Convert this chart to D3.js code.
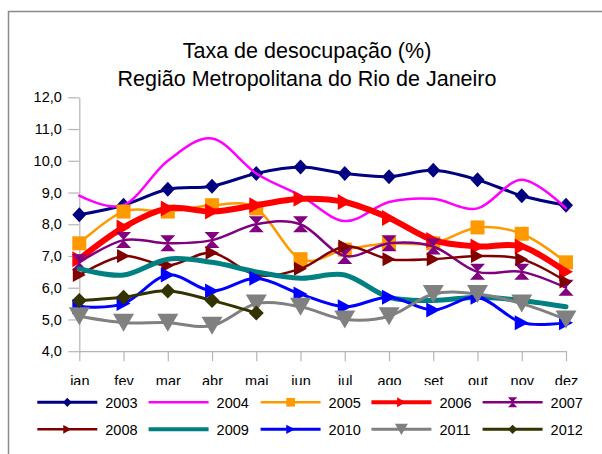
<!DOCTYPE html>
<html>
<head>
<meta charset="utf-8">
<script src="https://cdn.jsdelivr.net/npm/d3@7"></script>
<style>
  html, body { margin: 0; padding: 0; background: #fff; }
  svg { display: block; font-family: "Liberation Sans", Arial, sans-serif; }
</style>
</head>
<body>
<svg id="chart" width="602" height="454"></svg>
<script>
// ---- data ----
const months = ["jan","fev","mar","abr","mai","jun","jul","ago","set","out","nov","dez"];
const yTicks = [4, 5, 6, 7, 8, 9, 10, 11, 12];
const titleLines = ["Taxa de desocupação (%)", "Região Metropolitana do Rio de Janeiro"];
const years = ["2003","2004","2005","2006","2007","2008","2009","2010","2011","2012"];

const v2003 = [8.3, 8.6, 9.1, 9.2, 9.6, 9.8, 9.6, 9.5, 9.7, 9.4, 8.9, 8.6];
const v2004 = [8.9, 8.6, 10.0, 10.7, 9.6, 8.9, 8.1, 8.7, 8.8, 8.5, 9.4, 8.5];
const v2005 = [7.4, 8.4, 8.4, 8.6, 8.5, 6.9, 7.2, 7.4, 7.4, 7.9, 7.7, 6.8];
const v2006 = [6.9, 7.9, 8.5, 8.4, 8.6, 8.8, 8.7, 8.2, 7.5, 7.3, 7.3, 6.5];
const v2007 = [6.8, 7.5, 7.4, 7.5, 8.0, 8.0, 7.0, 7.4, 7.3, 6.5, 6.5, 6.0];
const v2008 = [6.4, 7.0, 6.7, 7.1, 6.4, 6.6, 7.3, 6.9, 6.9, 7.0, 6.9, 6.2];
const v2009 = [6.6, 6.4, 6.9, 6.8, 6.5, 6.3, 6.4, 5.7, 5.6, 5.7, 5.6, 5.4];
const v2010 = [5.4, 5.5, 6.4, 5.9, 6.3, 5.8, 5.4, 5.7, 5.3, 5.7, 4.9, 4.9];
const v2011 = [5.1, 4.9, 4.9, 4.8, 5.5, 5.4, 5.0, 5.1, 5.8, 5.8, 5.5, 5.0];
const v2012 = [5.6, 5.7, 5.9, 5.6, 5.2];

// ---- styles (per series) ----
const seriesValues = [v2003, v2004, v2005, v2006, v2007, v2008, v2009, v2010, v2011, v2012];
const seriesStyle = [
  {color: "#000080", width: 3,   marker: "diamond",  mw: 14, mh: 15},
  {color: "#FF00FF", width: 2.5, marker: null},
  {color: "#FF9900", width: 2.5, marker: "square",   mw: 14, mh: 14},
  {color: "#FF0000", width: 6,   marker: "triRight", mw: 14, mh: 16},
  {color: "#800080", width: 2.5, marker: "hourglass",mw: 15, mh: 16},
  {color: "#800000", width: 2.5, marker: "triRight", mw: 13, mh: 14},
  {color: "#008080", width: 5,   marker: null},
  {color: "#0000FF", width: 3,   marker: "triRight", mw: 14, mh: 15},
  {color: "#808080", width: 3,   marker: "triDown",  mw: 21, mh: 18},
  {color: "#333300", width: 3,   marker: "diamond",  mw: 15, mh: 15}
];

const svg = d3.select("#chart");

// frame
svg.append("rect").attr("x", 8.5).attr("y", 11.5).attr("width", 620).attr("height", 470)
  .attr("fill", "#fff").attr("stroke", "#8a8a8a").attr("stroke-width", 1.5);

// title
svg.append("g").selectAll("text").data(titleLines).join("text")
  .attr("x", 307).attr("y", (d, i) => 58.3 + i * 27.2)
  .attr("text-anchor", "middle").attr("font-size", 21.5).attr("fill", "#000")
  .text(d => d);

const x = d3.scalePoint().domain(months).range([79.3, 566]).padding(0);
const y = d3.scaleLinear().domain([4, 12]).range([351.2, 97.3]);

const axisColor = "#b5b5b5";
const fmt = d => d.toFixed(1).replace(".", ",");

const gy = svg.append("g").attr("transform", "translate(79.3,0)")
  .call(d3.axisLeft(y).tickValues(yTicks).tickSize(11).tickSizeOuter(0).tickPadding(6.5).tickFormat(fmt));
const gx = svg.append("g").attr("transform", "translate(0,351.2)")
  .call(d3.axisBottom(x).tickSize(10).tickSizeOuter(0).tickPadding(15));
[gx, gy].forEach(g => {
  g.select(".domain").attr("stroke", axisColor).attr("stroke-width", 1.2);
  g.selectAll(".tick line").attr("stroke", axisColor).attr("stroke-width", 1.2);
  g.selectAll(".tick text").attr("fill", "#000").attr("font-size", 14.5)
    .attr("font-family", "Liberation Sans, Arial, sans-serif");
});

function markerPath(type, w, h) {
  const a = w / 2, b = h / 2;
  switch (type) {
    case "diamond": return `M0,${-b}L${a},0L0,${b}L${-a},0Z`;
    case "square": return `M${-a},${-b}L${a},${-b}L${a},${b}L${-a},${b}Z`;
    case "triRight": return `M${-a},${-b}L${a},0L${-a},${b}Z`;
    case "triDown": return `M${-a},${-b}L${a},${-b}L0,${b}Z`;
    case "hourglass": return `M${-a},${-b}L${a},${-b}L${-a},${b}L${a},${b}Z`;
  }
  return "";
}

const line = d3.line()
  .x((d, i) => x(months[i]))
  .y(d => y(d))
  .curve(d3.curveCardinal.tension(0));

const plot = svg.append("g");
seriesValues.forEach((vals, si) => {
  const st = seriesStyle[si];
  const g = plot.append("g");
  g.append("path").datum(vals).attr("d", line)
    .attr("fill", "none").attr("stroke", st.color).attr("stroke-width", st.width)
    .attr("stroke-linejoin", "round").attr("stroke-linecap", "round");
  if (st.marker) {
    g.selectAll("path.m").data(vals).join("path").attr("class", "m")
      .attr("transform", (d, i) => `translate(${x(months[i])},${y(d)})`)
      .attr("d", markerPath(st.marker, st.mw, st.mh))
      .attr("fill", st.color);
  }
});

// legend (white box covering lower part of category labels)
svg.append("rect").attr("x", 10).attr("y", 385).attr("width", 592).attr("height", 69).attr("fill", "#fff");
const legX = [37.3, 148.6, 260.6, 371.4, 482.6];
const legY = [402.3, 429.3];
const leg = svg.append("g");
years.forEach((yr, i) => {
  const st = seriesStyle[i];
  const lx = legX[i % 5], ly = legY[Math.floor(i / 5)];
  const g = leg.append("g");
  g.append("line").attr("x1", lx).attr("x2", lx + 60).attr("y1", ly).attr("y2", ly)
    .attr("stroke", st.color).attr("stroke-width", Math.min(st.width, 4));
  if (st.marker) {
    g.append("path").attr("transform", `translate(${lx + 30},${ly})`)
      .attr("d", markerPath(st.marker, st.mw * 0.62, st.mh * 0.62)).attr("fill", st.color);
  }
  g.append("text").attr("x", lx + 68).attr("y", ly + 5.2)
    .attr("font-size", 14.5).attr("fill", "#000").text(yr);
});
</script>
</body>
</html>
